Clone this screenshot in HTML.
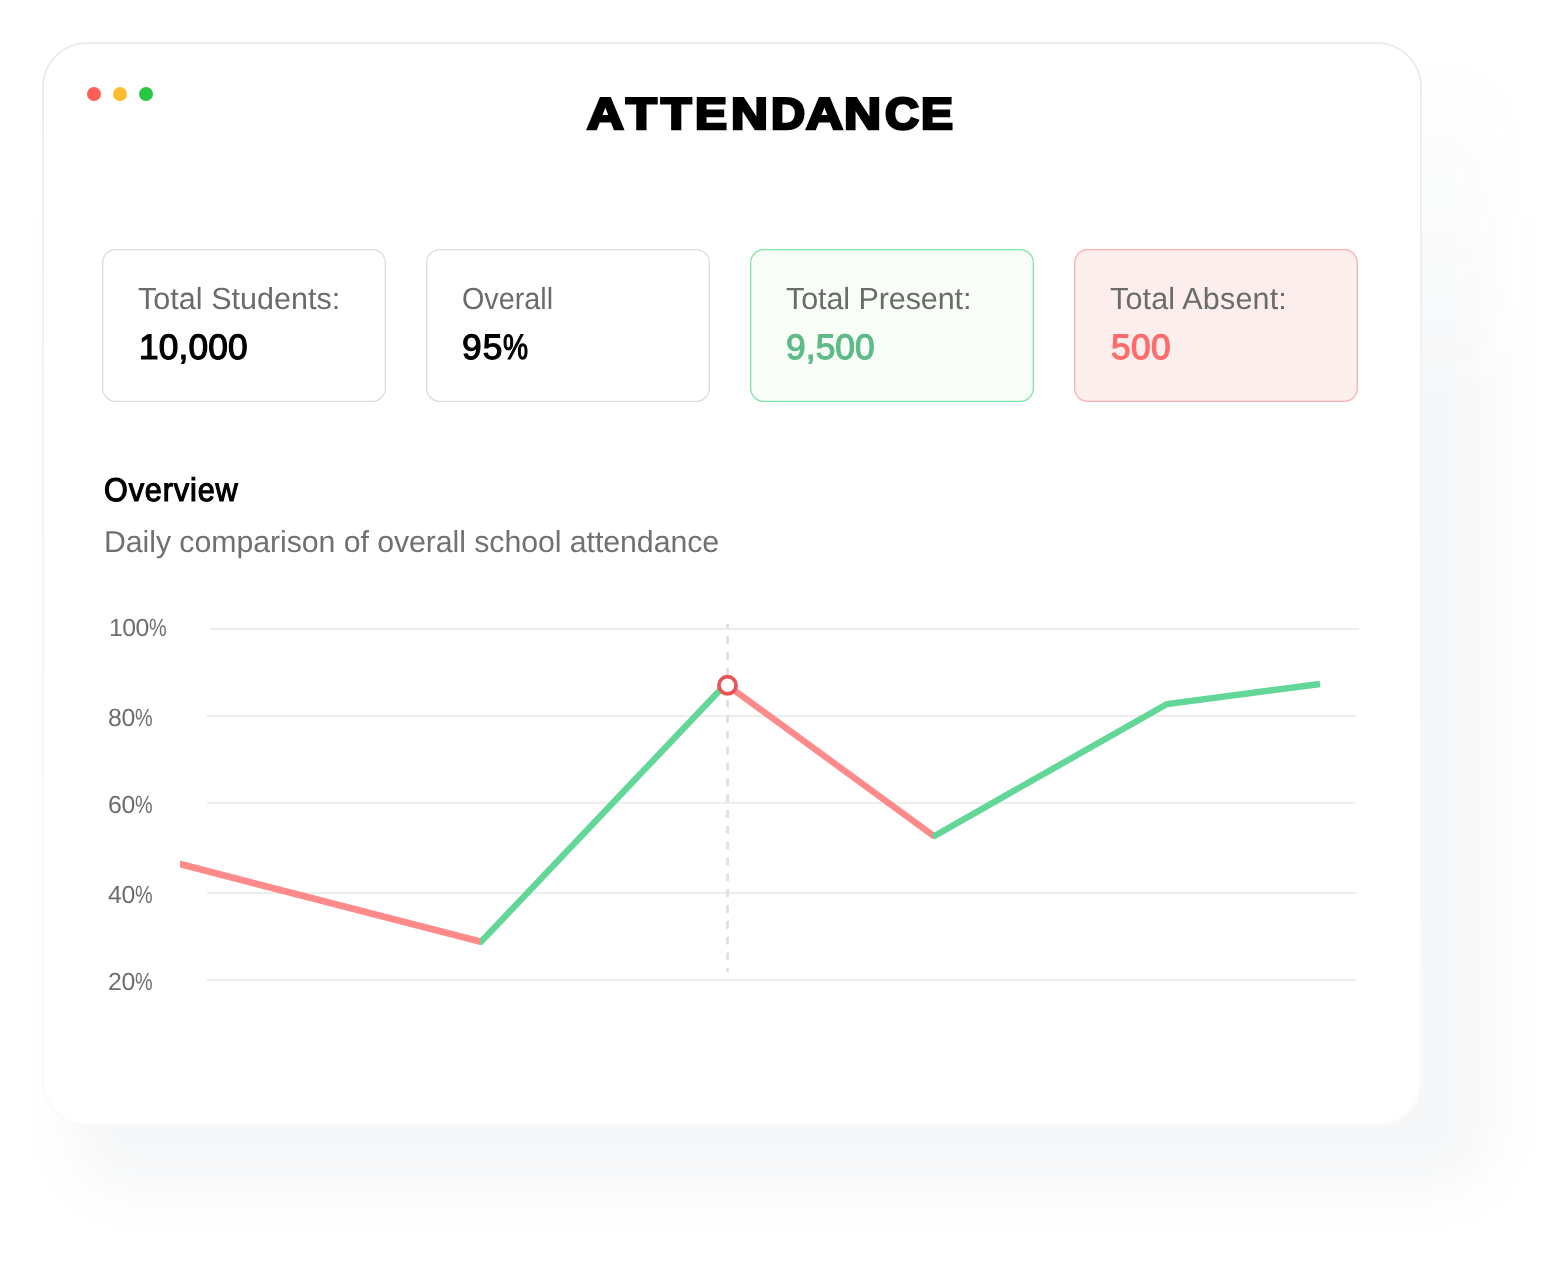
<!DOCTYPE html>
<html lang="en"><head><meta charset="utf-8"><title>Attendance</title>
<style>
html,body{margin:0;padding:0;background:#fff;}
body{width:1562px;height:1265px;position:relative;overflow:hidden;font-family:"Liberation Sans",sans-serif;}
.shadowwrap{position:absolute;left:0;top:0;width:1562px;height:1265px;-webkit-mask-image:linear-gradient(180deg,rgba(0,0,0,0) 30px,rgba(0,0,0,1) 400px);mask-image:linear-gradient(180deg,rgba(0,0,0,0) 30px,rgba(0,0,0,1) 400px);}
.shadow{position:absolute;left:70px;top:60px;width:1425px;height:1131px;border-radius:60px;background:rgba(70,90,115,0.048);filter:blur(25px);}
.frame{position:absolute;left:42px;top:42px;width:1380px;height:1084px;border-radius:45px;
  background:linear-gradient(180deg,#ececec 0%,#efefef 12%,#f4f5f6 50%,#fafafa 100%);}
.card{position:absolute;left:44px;top:44px;width:1376px;height:1080px;border-radius:43px;background:#fff;}
.dot{position:absolute;width:14px;height:14px;border-radius:50%;top:87px;}
.t{position:absolute;white-space:nowrap;margin:0;text-rendering:geometricPrecision;transform:scaleX(0.9999);transform-origin:0 0;}
.val{-webkit-text-stroke:1.2px #000;}
.pc{display:inline-block;transform:scaleX(0.8);transform-origin:0 50%;letter-spacing:0;}
svg{position:absolute;left:0;top:0;}
.title{position:absolute;margin:0;white-space:nowrap;font-weight:700;font-size:44.7px;line-height:44.7px;color:#000;-webkit-text-stroke:2.72px #000;text-rendering:geometricPrecision;}
.title span{display:inline-block;transform-origin:0 0;}
</style></head>
<body>
<div class="shadowwrap"><div class="shadow"></div></div>
<div class="frame"></div>
<div class="card"></div>
<div class="dot" style="left:87.2px;background:#ff5f57"></div>
<div class="dot" style="left:113.2px;background:#febc2e"></div>
<div class="dot" style="left:139.2px;background:#28c840"></div>

<h1 class="title" style="left:587.28px;top:92.60px"><span style="width:38.49px;transform:scaleX(1.1373)">A</span><span style="width:35.49px;transform:scaleX(1.1259)">T</span><span style="width:34.20px;transform:scaleX(1.1156)">T</span><span style="width:35.08px;transform:scaleX(1.0720)">E</span><span style="width:40.15px;transform:scaleX(1.1449)">N</span><span style="width:35.40px;transform:scaleX(1.0553)">D</span><span style="width:38.45px;transform:scaleX(1.1434)">A</span><span style="width:40.17px;transform:scaleX(1.1483)">N</span><span style="width:36.85px;transform:scaleX(1.0518)">C</span><span style="width:40.00px;transform:scaleX(1.0720)">E</span></h1>

<svg width="1562" height="1265" viewBox="0 0 1562 1265">
  <g fill="none" stroke-width="1.3">
    <rect x="102.65" y="249.65" width="282.7" height="151.7" rx="13" fill="#ffffff" stroke="#dcdcdc"/>
    <rect x="426.65" y="249.65" width="282.7" height="151.7" rx="13" fill="#ffffff" stroke="#dcdcdc"/>
    <rect x="750.65" y="249.65" width="282.7" height="151.7" rx="13" fill="#f8fdf8" stroke="#80e5ac"/>
    <rect x="1074.65" y="249.65" width="282.7" height="151.7" rx="13" fill="#fdeeee" stroke="#fbaeae"/>
  </g>
  <!-- grid -->
  <g stroke="#ededed" stroke-width="2">
    <line x1="210" y1="629" x2="1359" y2="629"/>
    <line x1="207" y1="716" x2="1356" y2="716"/>
    <line x1="207" y1="802.8" x2="1356" y2="802.8"/>
    <line x1="207" y1="893" x2="1356" y2="893"/>
    <line x1="207" y1="980" x2="1356" y2="980"/>
  </g>
  <line x1="727.55" y1="620.28" x2="727.55" y2="972.2" stroke="#dde2e5" stroke-width="2.9" stroke-dasharray="7.85 7.97" clip-path="url(#dc)"/>
  <line x1="210" y1="629" x2="1359" y2="629" stroke="#ededed" stroke-width="2"/>
  <defs>
    <clipPath id="dc"><rect x="700" y="624" width="60" height="348.2"/></clipPath>
    <clipPath id="c1"><rect x="180" y="600" width="300" height="400"/></clipPath>
    <clipPath id="c2"><rect x="480" y="600" width="247.5" height="400"/></clipPath>
  </defs>
  <g fill="none" stroke-width="6.4" stroke-linejoin="miter">
    <polyline points="100,843.4 481,941.8 727.5,682.1" stroke="#62d797" clip-path="url(#c2)"/>
    <polyline points="100,843.4 481,941.8 727.5,682.1" stroke="#ff8a8a" stroke-width="6.8" clip-path="url(#c1)"/>
    <polyline points="727.5,685.3 935,836.9" stroke="#ff8a8a"/>
    <polyline points="933.1,836.7 1167,704 1320,684" stroke="#62d797"/>
  </g>
  <circle cx="727.5" cy="685.3" r="8.6" fill="#fff" stroke="#e85558" stroke-width="3.8"/>
</svg>

<div class="t lab" style="left:138.40px;top:284.18px;font-size:30.5px;line-height:30.5px;color:#6b6b6b;letter-spacing:0.04px;">Total Students:</div>
<div class="t val" style="left:138.60px;top:329.62px;font-size:35.3px;line-height:35.3px;color:#000;letter-spacing:0.16px;">10,000</div>
<div class="t lab" style="left:462.00px;top:284.18px;font-size:30.5px;line-height:30.5px;color:#6b6b6b;letter-spacing:0px;transform:scaleX(0.943);">Overall</div>
<div class="t val" style="left:462.30px;top:329.62px;font-size:35.3px;line-height:35.3px;color:#000;letter-spacing:1.1px;">95<span class="pc">%</span></div>
<div class="t lab" style="left:786.00px;top:284.18px;font-size:30.5px;line-height:30.5px;color:#6b6b6b;letter-spacing:-0.075px;">Total Present:</div>
<div class="t val" style="left:786.00px;top:329.62px;font-size:35.3px;line-height:35.3px;color:#5dbb87;-webkit-text-stroke-color:#5dbb87;letter-spacing:0.1px;">9,500</div>
<div class="t lab" style="left:1110.00px;top:284.18px;font-size:30.5px;line-height:30.5px;color:#6b6b6b;letter-spacing:0.18px;">Total Absent:</div>
<div class="t val" style="left:1111.20px;top:329.62px;font-size:35.3px;line-height:35.3px;color:#ff6b6b;-webkit-text-stroke-color:#ff6b6b;letter-spacing:0.4px;">500</div>
<div class="t ov" style="left:103.60px;top:474.23px;font-size:32.8px;line-height:32.8px;color:#000;-webkit-text-stroke:1.2px #000;letter-spacing:0.9px;transform:scaleX(0.935);transform-origin:0 0;">Overview</div>
<div class="t sub" style="left:103.60px;top:528.35px;font-size:30.3px;line-height:30.3px;color:#717171;letter-spacing:-0.065px;">Daily comparison of overall school attendance</div>
<div class="t ax" style="left:109.30px;top:617.01px;font-size:24.8px;line-height:24.8px;color:#6e6e6e;letter-spacing:-0.5px;">100<span class="pc">%</span></div>
<div class="t ax" style="left:108.30px;top:707.01px;font-size:24.8px;line-height:24.8px;color:#6e6e6e;letter-spacing:-0.4px;">80<span class="pc">%</span></div>
<div class="t ax" style="left:108.30px;top:794.01px;font-size:24.8px;line-height:24.8px;color:#6e6e6e;letter-spacing:-0.4px;">60<span class="pc">%</span></div>
<div class="t ax" style="left:108.30px;top:884.01px;font-size:24.8px;line-height:24.8px;color:#6e6e6e;letter-spacing:-0.4px;">40<span class="pc">%</span></div>
<div class="t ax" style="left:108.30px;top:971.01px;font-size:24.8px;line-height:24.8px;color:#6e6e6e;letter-spacing:-0.4px;">20<span class="pc">%</span></div>
</body></html>
